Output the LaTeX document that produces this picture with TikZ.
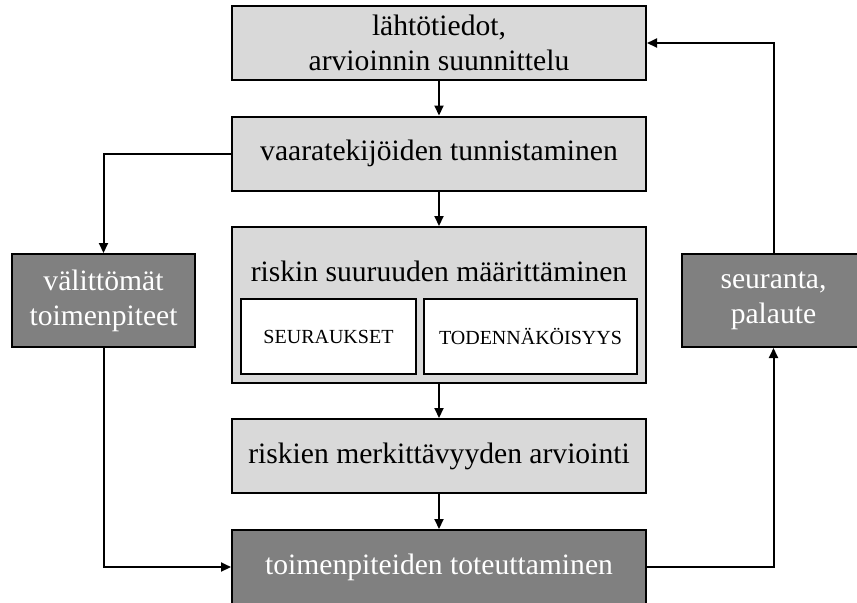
\documentclass[tikz,border=0pt]{standalone}
\usepackage{fontspec}
\setmainfont{Liberation Serif}
\usetikzlibrary{arrows.meta,positioning}

\begin{document}
\begin{tikzpicture}[x=0.5pt, y=-0.5pt,
    lbox/.style={draw, line width=1pt, fill=black!15, minimum width=207pt, minimum height=37pt, align=center, font=\fontsize{14.8}{17.5}\selectfont},
    dbox/.style={lbox, fill=black!50, text=white},
    sbox/.style={draw, line width=1pt, fill=white, minimum height=37.5pt, font=\fontsize{10}{12}\selectfont},
    arr/.style={-{Triangle[length=5pt, width=4.5pt]}, line width=1pt}
]
\useasboundingbox (0,0) rectangle (857,602);

\node[lbox] (lahto) at (439,43) {lähtötiedot,\\arvioinnin suunnittelu};
\node[lbox] (vaara) at (439,153.5) {vaaratekijöiden tunnistaminen};
\node[lbox, minimum height=78pt] (riski) at (439,305) {};
\node[font=\fontsize{14.8}{17.5}\selectfont] (riskiot) at (439,271) {riskin suuruuden määrittäminen};
\node[sbox, minimum width=87.5pt] (seur) at (328.5,336.5) {SEURAUKSET};
\node[sbox, minimum width=106.5pt] (toden) at (530.5,336.5) {TODENNÄKÖISYYS};
\node[lbox] (merk) at (439,456) {riskien merkittävyyden arviointi};
\node[dbox] (toim) at (439,567) {toimenpiteiden toteuttaminen};
\node[dbox, minimum width=91.5pt, minimum height=46.5pt] (valit) at (103.5,300.5) {välittömät\\toimenpiteet};
\node[dbox, minimum width=91.5pt, minimum height=46.5pt] (palaute) at (773.5,300.5) {seuranta,\\palaute};

\draw[arr] (lahto) -- (vaara);
\draw[arr] (vaara) -- (riski);
\draw[arr] (riski) -- (merk);
\draw[arr] (merk) -- (toim);
\draw[arr] (vaara.west) -| (valit.north);
\draw[arr] (valit.south) |- (toim.west);
\draw[arr] (toim.east) -| (palaute.south);
\draw[arr] (palaute.north) |- (lahto.east);
\end{tikzpicture}
\end{document}
